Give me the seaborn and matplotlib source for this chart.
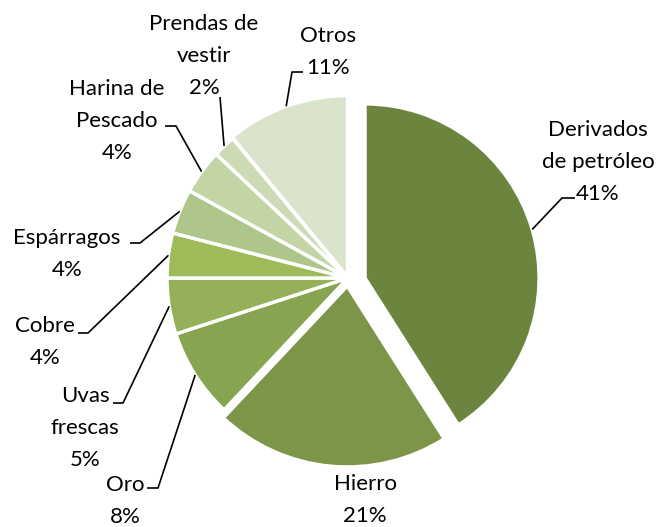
import numpy as np
import matplotlib
matplotlib.use("Agg")
import matplotlib.pyplot as plt
import seaborn as sns

categories = ["Derivados\nde petróleo", "Hierro", "Oro", "Uvas\nfrescas", "Cobre",
              "Espárragos", "Harina de\nPescado", "Prendas de\nvestir", "Otros"]
values = [41, 21, 8, 5, 4, 4, 4, 2, 11]
colors = ["#6B843E", "#7C9548", "#87A550", "#94B159", "#9DBB59",
          "#AFC68A", "#C3D4A5", "#CCDAB5", "#DAE3CC"]

sns.set_theme(style="white")
plt.rcParams['font.family'] = ['Lato', 'DejaVu Sans']

W, H = 662, 527
fig = plt.figure(figsize=(W / 100, H / 100), dpi=100)
ax = fig.add_axes([0, 0, 1, 1])

def P(x, y):
    """pixel coordinates (y downward) -> data coordinates"""
    return (x, H - y)

cx, cy = P(348, 278)
R = 181
# explode distances in data units (pixels)
explode = [0, 8, 0, 0, 0, 0, 0, 0, 1.5]
wedges, _ = ax.pie(values, colors=colors, startangle=90, counterclock=False,
                   explode=explode, radius=R, center=(cx, cy),
                   wedgeprops=dict(edgecolor="white", linewidth=2.5))
# exploded main slice
wedges[0].set_center((cx + 17, cy))
wedges[0].set_radius(R * 0.962)

ax.set_xlim(0, W)
ax.set_ylim(0, H)
ax.set_aspect("equal")
ax.axis("off")

def arc_mid(w):
    t = np.deg2rad((w.theta1 + w.theta2) / 2)
    c = w.center
    return (c[0] + w.r * np.cos(t), c[1] + w.r * np.sin(t))

# label text positions (pixel), leader polyline waypoints (pixel)
label_pos = [(598, 162), (365, 500), (125, 501), (85, 428), (45, 342),
             (67, 254), (117, 121), (204, 56), (328, 52)]
leaders = [[(562, 198), (575, 198)], None, [(158, 488), (147, 488)],
           [(123, 403), (113, 403)], [(88, 333), (78, 333)],
           [(140, 243), (130, 243)], [(176, 126), (165, 126)],
           [(220, 97)], [(292, 72), (303, 72)]]

fs = 16
for w, cat, v, pos, ld in zip(wedges, categories, values, label_pos, leaders):
    ax.text(*P(*pos), f"{cat}\n{v}%", ha="center", va="center",
            fontsize=fs, color="black", linespacing=1.72)
    if ld is not None:
        pts = [arc_mid(w)] + [P(*p) for p in ld]
        xs, ys = zip(*pts)
        ax.plot(xs, ys, color="black", linewidth=1.2, solid_capstyle="butt")

fig.savefig("out.png", dpi=100, facecolor="white")
